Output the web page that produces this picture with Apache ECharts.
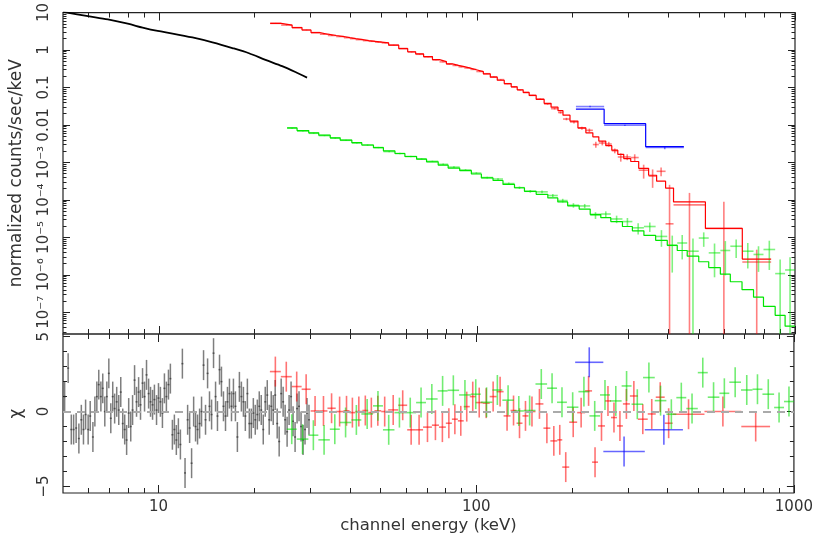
<!DOCTYPE html>
<html>
<head>
<meta charset="utf-8">
<script src="https://cdn.jsdelivr.net/npm/echarts@6/dist/echarts.min.js"></script>
<style>
  html, body { margin: 0; padding: 0; background: #fff; }
  #chart { width: 816px; height: 540px; }
</style>
</head>
<body>
<div id="chart"></div>
<script>
// axis ranges (keV, counts/sec/keV, chi)
const X_MIN = 5, X_MAX = 1000;
const Y_MIN = 2.64e-8, Y_MAX = 10;
const CHI_MIN = -5.44, CHI_MAX = 5.18;

// tick labels
const xMajorTicks = [10, 100, 1000];
const xMajorLabels = ['10', '100', '1000'];
const xMinorTicks = [6, 7, 8, 9, 20, 30, 40, 50, 60, 70, 80, 90, 200, 300, 400, 500, 600, 700, 800, 900];
const yMajorTicks = [10, 1, 0.1, 0.01, 1e-3, 1e-4, 1e-5, 1e-6, 1e-7];
const yMajorLabels = ['10', '1', '0.1', '0.01', '10⁻³', '10⁻⁴', '10⁻⁵', '10⁻⁶', '10⁻⁷'];
const chiMajorTicks = [-5, 0, 5];
const chiMajorLabels = ['−5', '0', '5'];
const chiMinorTicks = [-4, -3, -2, -1, 1, 2, 3, 4];

// black spectrum: [energy, counts]
const blackCurve = [[5.0, 10.4], [5.99, 8.0], [6.92, 6.55], [7.99, 5.04], [8.90, 3.96], [9.92, 3.22],
  [11.05, 2.75], [12.76, 2.16], [14.75, 1.60], [17.03, 1.13], [19.21, 0.82], [21.65, 0.545],
  [24.42, 0.372], [26.88, 0.259], [29.25, 0.183]];

// black residuals: [energy, chi]
const blackResid = [
  [5.06, 1.0], [5.19, 2.9], [5.31, -1.2], [5.40, -1.2], [5.50, -1.1], [5.61, -1.8], [5.71, -0.55], [5.80, -1.2], [5.89, -0.2], [6.00, -1.2],
  [6.09, -0.3], [6.21, -1.7], [6.30, 0], [6.39, 1.0], [6.48, 1.8], [6.58, 1.0], [6.67, 1.55], [6.77, 0], [6.87, 1.0], [6.97, 2.55],
  [7.07, -0.45], [7.17, 1.0], [7.27, 0.2], [7.38, 0.65], [7.49, 0.1], [7.60, 1.3], [7.71, -0.8], [7.82, -1.2], [7.93, -1.9], [8.05, -0.1],
  [8.17, -1.0], [8.28, 0.1], [8.40, 2.1], [8.52, 0.65], [8.65, 1.3], [8.77, 0.45], [8.90, 1.9], [9.03, 1.0], [9.16, 2.45], [9.30, 1.2],
  [9.43, 0.65], [9.57, 0.45], [9.70, 0.8], [9.85, 0.1], [9.99, 0.9], [10.13, 0.65], [10.28, -0.1], [10.43, 1.55], [10.58, 1.0], [10.74, 1.8],
  [10.89, 2.2], [11.05, -1.55], [11.21, -1.2], [11.37, -1.9], [11.54, -1.45], [11.71, -2.2], [11.88, 3.2], [12.11, -4.1], [12.34, -0.55], [12.52, -1.1],
  [12.70, -3.45], [12.89, 0], [13.07, -1.0], [13.26, -1.2], [13.46, -0.8], [13.65, 0], [13.85, 3.1], [14.05, -0.55], [14.26, 2.55], [14.46, 0.35],
  [14.68, -0.2], [14.89, 3.9], [15.11, 1.0], [15.32, -0.3], [15.55, 2.8], [15.77, 2.0], [16.00, 0.35], [16.24, -0.3], [16.47, 0.65], [16.71, 1.2],
  [16.96, 0.35], [17.20, 1.2], [17.45, 0.35], [17.70, -1.7], [17.96, 1.65], [18.22, 1.0], [18.49, 0.65], [18.75, -0.3], [19.03, 1.2], [19.30, -0.8],
  [19.58, -0.8], [19.87, -0.1], [20.15, -0.55], [20.45, -0.2], [20.74, 0.35], [21.04, 0.1], [21.35, -1.2], [21.66, 0.65], [21.98, 1.1], [22.29, -0.55],
  [22.62, 0.35], [22.95, 0.1], [23.28, 1.1], [23.62, -0.8], [23.96, -2.0], [24.31, 1.2], [24.66, 0.65], [25.02, -0.55], [25.38, -1.35], [25.75, 0.1],
  [26.12, 1.0], [26.50, -0.65], [26.89, -1.7], [27.28, 0.2], [27.67, 0.35], [28.08, -1.0], [28.49, -1.9], [28.90, -1.2], [29.32, -0.1], [29.74, -0.55]
];

// red spectrum: [lo keV, hi keV, model, data, error]
const redRows = [
  [22.4, 24.25, 5.14, 5.14, 0.15], [24.25, 26.25, 4.63, 4.63, 0.12], [26.25, 28.2, 3.96, 3.96, 0.1], [28.2, 30.1, 3.42, 3.42, 0.08],
  [30.1, 32.1, 2.92, 2.92, 0.07], [32.1, 34.0, 2.64, 2.64, 0.06], [34.0, 36.1, 2.44, 2.44, 0.06], [36.1, 38.2, 2.29, 2.29, 0.05],
  [38.2, 39.9, 2.13, 2.13, 0.05], [39.9, 41.6, 2.01, 2.01, 0.05], [41.6, 43.8, 1.89, 1.89, 0.04], [43.8, 45.7, 1.78, 1.78, 0.04],
  [45.7, 47.8, 1.71, 1.71, 0.04], [47.8, 50.2, 1.63, 1.63, 0.04], [50.2, 52.8, 1.55, 1.55, 0.035], [52.8, 56.8, 1.35, 1.35, 0.03],
  [56.8, 60.6, 1.09, 1.10, 0.025], [60.6, 64.2, 0.90, 0.88, 0.02], [64.2, 68.0, 0.785, 0.77, 0.018], [68.0, 72.5, 0.667, 0.655, 0.015],
  [72.5, 76.3, 0.556, 0.547, 0.013], [76.3, 80.2, 0.492, 0.483, 0.012], [80.2, 83.8, 0.428, 0.422, 0.011], [83.8, 87.5, 0.391, 0.387, 0.01],
  [87.5, 91.3, 0.361, 0.356, 0.009], [91.3, 95.4, 0.330, 0.332, 0.008], [95.4, 99.6, 0.298, 0.304, 0.007], [99.6, 104.8, 0.264, 0.267, 0.006],
  [104.8, 110.2, 0.230, 0.233, 0.005], [110.2, 115.9, 0.189, 0.193, 0.0045], [115.9, 121.9, 0.156, 0.162, 0.004], [121.9, 128.2, 0.127, 0.126, 0.0035],
  [128.2, 133.9, 0.104, 0.1043, 0.003], [133.9, 139.8, 0.0869, 0.085, 0.0025], [139.8, 146.0, 0.0738, 0.073, 0.0022], [146.0, 153.6, 0.0615, 0.0615, 0.002],
  [153.6, 162.7, 0.0483, 0.0493, 0.0018], [162.7, 171.1, 0.0379, 0.0362, 0.0015], [171.1, 179.9, 0.0298, 0.0272, 0.0013], [179.9, 186.5, 0.0241, 0.0215, 0.0014],
  [186.5, 196.2, 0.0183, 0.0144, 0.0011], [196.2, 207.8, 0.0127, 0.0120, 0.001], [207.8, 220.1, 0.00834, 0.0082, 0.0008], [220.1, 231.5, 0.00615, 0.0072, 0.0008],
  [231.5, 241.7, 0.00483, 0.0030, 0.00055], [241.7, 254.2, 0.00372, 0.0033, 0.00045], [254.2, 265.5, 0.0028, 0.0031, 0.00045], [265.5, 277.3, 0.00213, 0.00205, 0.0003],
  [277.3, 289.5, 0.00165, 0.00140, 0.00035], [289.5, 304.5, 0.00127, 0.00140, 0.00025], [304.5, 322.6, 0.00106, 0.00135, 0.0003], [322.6, 346.6, 0.000695, 0.00062, 0.00025],
  [346.6, 367.3, 0.000455, 0.00043, 0.00022], [367.3, 391.9, 0.000316, 0.00058, 0.00015], [391.9, 415.1, 0.000207, 0.000023, 0.00023], [415.1, 522.9, 0.0000886, 0.0000738, 0.00008],
  [522.9, 682.9, 0.0000173, 0.0000173, 0.000072], [682.9, 841.4, 0.00000264, 0.0000022, 0.0000025]
];
const redChi = [2.67, 2.33, 1.67, 1.49, 0.04, 0.04, 0.22, 0.0, 0.05, -0.07, 0.0, 0.07, -0.07, 0.05, 0.0, 0.11,
  0.42, -1.22, -1.22, -1.04, -0.91, -1.04, -0.78, -0.51, -0.62, 0.33, 1.0, 0.6, 0.56, 1.0, 1.33, -0.29,
  0.07, -0.78, -0.29, 0.0, 0.51, -1.11, -1.96, -1.89, -3.71, -0.71, -0.07, 1.38, -3.38, -0.96, 0.71, -0.4,
  -0.96, 0.51, 1.04, -0.51, -0.16, 0.96, -0.78, -0.18, 0.0, -1.0];

// green spectrum: [lo keV, hi keV, model, data, error]
const greenRows = [
  [25.32, 27.21, 8.34e-3, 8.2e-3, 2.5e-4], [27.21, 29.61, 7.08e-3, 6.9e-3, 2.2e-4], [29.61, 31.83, 6.15e-3, 6.0e-3, 2e-4], [31.83, 34.59, 5.35e-3, 5.2e-3, 1.8e-4],
  [34.59, 37.18, 4.55e-3, 4.45e-3, 1.6e-4], [37.18, 40.45, 3.96e-3, 3.9e-3, 1.4e-4], [40.45, 43.47, 3.36e-3, 3.3e-3, 1.2e-4], [43.47, 47.30, 2.92e-3, 2.9e-3, 1.1e-4],
  [47.30, 50.84, 2.48e-3, 2.5e-3, 1e-4], [50.84, 55.27, 2.03e-3, 1.95e-3, 8e-5], [55.27, 59.39, 1.73e-3, 1.73e-3, 7e-5], [59.39, 64.65, 1.44e-3, 1.44e-3, 6e-5],
  [64.65, 69.47, 1.22e-3, 1.24e-3, 5e-5], [69.47, 75.58, 1.04e-3, 1.07e-3, 4.5e-5], [75.58, 81.22, 8.49e-4, 8.9e-4, 4e-5], [81.22, 88.31, 7.08e-4, 7.5e-4, 3.5e-5],
  [88.31, 96.09, 6.05e-4, 6.3e-4, 3e-5], [96.09, 103.3, 4.92e-4, 5.2e-4, 2.5e-5], [103.3, 112.4, 3.86e-4, 3.95e-4, 2.2e-5], [112.4, 120.8, 3.30e-4, 3.6e-4, 2e-5],
  [120.8, 131.3, 2.59e-4, 2.73e-4, 1.8e-5], [131.3, 141.1, 2.11e-4, 2.12e-4, 1.6e-5], [141.1, 153.6, 1.69e-4, 1.7e-4, 1.4e-5], [153.6, 167.1, 1.41e-4, 1.64e-4, 1.3e-5],
  [167.1, 179.6, 1.13e-4, 1.31e-4, 1.2e-5], [179.6, 192.9, 8.86e-5, 9.6e-5, 1.1e-5], [192.9, 209.7, 6.95e-5, 7.2e-5, 1e-5], [209.7, 227.1, 5.69e-5, 6.9e-5, 9e-6],
  [227.1, 245.2, 4.10e-5, 3.9e-5, 8e-6], [245.2, 263.6, 3.36e-5, 4.2e-5, 7.5e-6], [263.6, 286.8, 2.64e-5, 3.1e-5, 7e-6], [286.8, 308.2, 1.95e-5, 2.64e-5, 6.5e-6],
  [308.2, 335.0, 1.50e-5, 1.8e-5, 6e-6], [335.0, 364.7, 1.13e-5, 1.95e-5, 5.5e-6], [364.7, 396.7, 8.34e-6, 1.06e-5, 5e-6], [396.7, 426.4, 6.15e-6, 6.15e-6, 5e-6],
  [426.4, 458.3, 4.47e-6, 7.08e-6, 4.5e-6], [458.3, 498.2, 3.16e-6, 4.28e-6, 5e-6], [498.2, 535.5, 2.24e-6, 9.6e-6, 4e-6], [535.5, 582.6, 1.56e-6, 3.86e-6, 3e-6],
  [582.6, 626.1, 1.04e-6, 4.47e-6, 3.5e-6], [626.1, 681.5, 6.55e-7, 5.8e-6, 3e-6], [681.5, 740.7, 4.03e-7, 4.28e-6, 2.8e-6], [740.7, 796.0, 2.53e-7, 3.5e-6, 2.3e-6],
  [796.0, 866.3, 1.44e-7, 4.75e-6, 3.4e-6], [866.3, 930.8, 8.34e-8, 1.08e-6, 1.5e-6], [930.8, 1000, 4.28e-8, 1.35e-6, 1.6e-6]
];
const greenChi = [-1.18, -1.84, -1.58, -1.89, -1.18, -0.73, -0.56, -0.16, 0.38, -1.22, -0.07, -0.07, 0.6, 0.84, 1.38, 1.42,
  1.11, 1.16, 0.62, 1.44, 0.76, 0.04, 0.07, 1.84, 1.56, 0.62, 0.29, 1.33, -0.29, 1.11, 0.71, 1.71,
  0.49, 2.27, 0.73, -0.18, 0.93, 0.2, 2.6, 0.96, 1.22, 1.96, 1.44, 1.49, 1.16, 0.27, 0.67];

// blue spectrum: [lo keV, hi keV, model, data, error]
const blueRows = [[204.8, 251.2, 0.0264, 0.031, 0.0015], [251.2, 339.3, 0.0108, 0.0098, 0.0004], [339.3, 447.3, 0.00264, 0.0025, 0.00025]];
const blueChi = [3.29, -2.67, -1.22];

const lg = Math.log10;
const FONT = 'DejaVu Sans';
const TEXT = '#333';
const FRAME = '#222';

function stepData(rows) {
  const d = rows.map(r => [lg(r[0]), lg(r[2])]);
  const last = rows[rows.length - 1];
  d.push([lg(last[1]), lg(last[2])]);
  return d;
}

function stepSeries(rows, color) {
  return {
    type: 'line', xAxisIndex: 0, yAxisIndex: 0, step: 'end', showSymbol: false, silent: true,
    data: stepData(rows), lineStyle: { color: color, width: 1.2 }, z: 3
  };
}

// error-bar crosses: value = [xlo, xhi, y, ylo, yhi] in axis units
function crossSeries(data, color, xi, yi, width) {
  return {
    type: 'custom', xAxisIndex: xi, yAxisIndex: yi, silent: true, z: 2, data: data,
    renderItem: (params, api) => {
      const xm = (api.value(0) + api.value(1)) / 2;
      const a = api.coord([api.value(0), api.value(2)]);
      const b = api.coord([api.value(1), api.value(2)]);
      const lo = api.coord([xm, api.value(3)]);
      const hi = api.coord([xm, api.value(4)]);
      let x1 = a[0], x2 = b[0];
      if (x2 - x1 < 2) { x1 = lo[0] - 1; x2 = lo[0] + 1; }
      const st = { stroke: color, lineWidth: width || 1.6 };
      return {
        type: 'group', children: [
          { type: 'line', shape: { x1: x1, y1: a[1], x2: x2, y2: a[1] }, style: st },
          { type: 'line', shape: { x1: lo[0], y1: lo[1], x2: hi[0], y2: hi[1] }, style: st }
        ]
      };
    }
  };
}

function topCross(rows) {
  return rows.map(r => {
    const low = r[3] - r[4] > Y_MIN ? r[3] - r[4] : Y_MIN;
    return [lg(r[0]), lg(r[1]), lg(r[3]), lg(low), lg(r[3] + r[4])];
  });
}
function resCross(rows, chi) {
  return rows.map((r, i) => [lg(r[0]), lg(r[1]), chi[i], chi[i] - 1, chi[i] + 1]);
}

function labelFrom(ticks, labels, conv) {
  return v => {
    const i = ticks.findIndex(t => Math.abs(conv(t) - v) < 1e-6);
    return i < 0 ? '' : labels[i];
  };
}

function xAxis(grid, pos, ticks, len, label, name) {
  const ax = {
    type: 'value', gridIndex: grid, position: pos, min: lg(X_MIN), max: lg(X_MAX),
    axisLine: { show: false, onZero: false }, splitLine: { show: false },
    axisTick: { show: true, inside: true, length: len, customValues: ticks.map(lg), lineStyle: { color: FRAME, width: 1 } },
    axisLabel: { show: false }
  };
  if (label) {
    ax.axisLabel = {
      show: true, customValues: xMajorTicks.map(lg), margin: 7, fontFamily: FONT, fontSize: 15, color: TEXT,
      formatter: labelFrom(xMajorTicks, xMajorLabels, lg)
    };
  }
  if (name) {
    ax.name = name; ax.nameLocation = 'middle'; ax.nameGap = 24;
    ax.nameTextStyle = { fontFamily: FONT, fontSize: 16.5, color: TEXT };
  }
  return ax;
}

function yAxis(grid, pos, min, max, ticks, len, label, name) {
  const ax = {
    type: 'value', gridIndex: grid, position: pos, min: min, max: max,
    axisLine: { show: false, onZero: false }, splitLine: { show: false },
    axisTick: { show: true, inside: true, length: len, customValues: ticks, lineStyle: { color: FRAME, width: 1 } },
    axisLabel: { show: false }
  };
  if (label) {
    ax.axisLabel = Object.assign({
      show: true, rotate: 90, margin: 11, fontFamily: FONT, fontSize: 15, color: TEXT
    }, label);
  }
  if (name) {
    ax.name = name; ax.nameLocation = 'middle'; ax.nameGap = 38;
    ax.nameTextStyle = { fontFamily: FONT, fontSize: 17, color: TEXT };
  }
  return ax;
}

// minor ticks of the log count axis
const yMinorTicks = [];
for (let k = -8; k <= 0; k++) {
  for (let m = 2; m <= 9; m++) {
    const v = m * Math.pow(10, k);
    if (v > Y_MIN && v < Y_MAX) yMinorTicks.push(lg(v));
  }
}
const yMajorLog = yMajorTicks.map(lg);

const chart = echarts.init(document.getElementById('chart'), null, { renderer: 'canvas' });

const option = {
  backgroundColor: '#fff',
  animation: false,
  grid: [
    { left: 60, right: 21, top: 8, height: 326, show: true, borderColor: FRAME, borderWidth: 1.2, backgroundColor: 'transparent' },
    { left: 60, right: 21, top: 334, height: 159, show: true, borderColor: FRAME, borderWidth: 1.2, backgroundColor: 'transparent' }
  ],
  xAxis: [
    xAxis(0, 'bottom', xMajorTicks, 8),
    xAxis(0, 'bottom', xMinorTicks, 5),
    xAxis(0, 'top', xMajorTicks, 8),
    xAxis(0, 'top', xMinorTicks, 5),
    xAxis(1, 'bottom', xMajorTicks, 8, true, 'channel energy (keV)'),
    xAxis(1, 'bottom', xMinorTicks, 5),
    xAxis(1, 'top', xMajorTicks, 8),
    xAxis(1, 'top', xMinorTicks, 5)
  ],
  yAxis: [
    yAxis(0, 'left', lg(Y_MIN), lg(Y_MAX), yMajorLog, 7,
      { customValues: yMajorLog, formatter: labelFrom(yMajorTicks, yMajorLabels, lg) }, 'normalized counts/sec/keV'),
    yAxis(0, 'left', lg(Y_MIN), lg(Y_MAX), yMinorTicks, 3.5),
    yAxis(0, 'right', lg(Y_MIN), lg(Y_MAX), yMajorLog, 7),
    yAxis(0, 'right', lg(Y_MIN), lg(Y_MAX), yMinorTicks, 3.5),
    yAxis(1, 'left', CHI_MIN, CHI_MAX, chiMajorTicks, 7,
      { customValues: chiMajorTicks, formatter: labelFrom(chiMajorTicks, chiMajorLabels, v => v) }, 'χ'),
    yAxis(1, 'left', CHI_MIN, CHI_MAX, chiMinorTicks, 4),
    yAxis(1, 'right', CHI_MIN, CHI_MAX, chiMajorTicks, 7),
    yAxis(1, 'right', CHI_MIN, CHI_MAX, chiMinorTicks, 4)
  ],
  series: [
    // top panel
    {
      type: 'line', xAxisIndex: 0, yAxisIndex: 0, smooth: 0.3, showSymbol: false, silent: true, z: 3,
      data: blackCurve.map(p => [lg(p[0]), lg(p[1])]), lineStyle: { color: '#000', width: 1.8 }
    },
    stepSeries(redRows, '#ff0000'),
    stepSeries(greenRows, '#00e600'),
    stepSeries(blueRows, '#0000ff'),
    crossSeries(topCross(redRows), 'rgba(255,0,0,0.5)', 0, 0),
    crossSeries(topCross(greenRows), 'rgba(0,230,0,0.5)', 0, 0),
    crossSeries(topCross(blueRows), 'rgba(0,0,255,0.5)', 0, 0),
    // residual panel
    Object.assign(
      crossSeries(blackResid.map(p => [lg(p[0]), lg(p[0]), p[1], p[1] - 1, p[1] + 1]), 'rgba(40,40,40,0.6)', 4, 4, 1.5),
      {
        markLine: {
          silent: true, symbol: 'none', label: { show: false },
          lineStyle: { color: '#aaa', type: [8, 6], width: 2 },
          data: [{ yAxis: 0 }]
        }
      }
    ),
    crossSeries(resCross(redRows, redChi), 'rgba(255,0,0,0.55)', 4, 4),
    crossSeries(resCross(greenRows, greenChi), 'rgba(0,220,0,0.55)', 4, 4),
    crossSeries(resCross(blueRows, blueChi), 'rgba(0,0,255,0.6)', 4, 4)
  ]
};

chart.setOption(option);
</script>
</body>
</html>
